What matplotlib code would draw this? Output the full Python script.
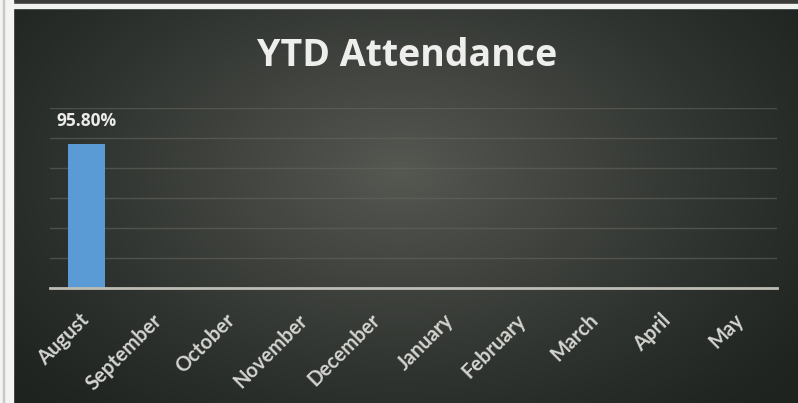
import numpy as np
import matplotlib.pyplot as plt
from matplotlib.patches import Rectangle

# data
months = ['August', 'September', 'October', 'November', 'December',
          'January', 'February', 'March', 'April', 'May']
attendance = [95.8, 0, 0, 0, 0, 0, 0, 0, 0, 0]
labels = ['95.80%', '', '', '', '', '', '', '', '', '']

plt.rcParams['font.family'] = ['Lato', 'DejaVu Sans']

fig = plt.figure(figsize=(7.98, 4.03), dpi=100, facecolor='#2a2d2a')

# dark slide background with a soft lighter centre
bg = fig.add_axes([0, 0, 1, 1], zorder=0)
yy, xx = np.mgrid[0:403, 0:798]
r = np.sqrt(((xx - 400) / 520.0) ** 2 + ((yy - 170) / 330.0) ** 2)
shade = np.clip(1 - r, 0, 1) ** 1.2
lo = np.array([0x1e, 0x23, 0x20]) / 255.0
hi = np.array([0x56, 0x58, 0x52]) / 255.0
img = lo + (hi - lo) * shade[..., None]
bg.imshow(img, aspect='auto', extent=[0, 798, 403, 0])
bg.set_xlim(0, 798)
bg.set_ylim(403, 0)
bg.axis('off')
# page edges from the scan
bg.add_patch(Rectangle((0, 0), 798, 3.5, color='#3c3c3a'))
bg.add_patch(Rectangle((0, 3.5), 798, 4, color='#f2f2f0'))
bg.add_patch(Rectangle((0, 0), 12.5, 403, color='#f4f4f2'))
bg.add_patch(Rectangle((3, 0), 1, 403, color='#c8c8c6'))

ax = fig.add_axes([0.0627, 0.2854, 0.911, 0.4467], zorder=1)
ax.patch.set_alpha(0)

x = np.arange(len(months))
bars = ax.bar(x, attendance, width=0.51, color='#5b9bd5', zorder=3)
ax.bar_label(bars, labels=labels, padding=10, color='#ececec',
             fontsize=12.5, fontweight='bold', family=['Open Sans', 'DejaVu Sans'])

ax.set_xlim(-0.5, len(months) - 0.5)
ax.set_ylim(0, 120)
ax.set_yticks(np.arange(0, 121, 20))
ax.yaxis.grid(True, color='#65655f', linewidth=1, alpha=0.6)
ax.tick_params(axis='y', left=False, labelleft=False)
ax.tick_params(axis='x', length=0, pad=21)
for s in ['top', 'right', 'left']:
    ax.spines[s].set_visible(False)
ax.spines['bottom'].set_color('#bdbdb5')
ax.spines['bottom'].set_linewidth(2)
ax.spines['bottom'].set_zorder(4)

ax.set_xticks(x)
ax.set_xticklabels(months, rotation=45, ha='right', va='center',
                   rotation_mode='anchor', color='#d4d4d0', fontsize=14.5,
                   fontweight='bold')

fig.text(0.51, 0.862, 'YTD Attendance', ha='center', va='center',
         color='#eeeeec', fontsize=27, fontweight='bold',
         family=['Open Sans', 'DejaVu Sans'])

fig.savefig('out.png', dpi=100, facecolor=fig.get_facecolor())
